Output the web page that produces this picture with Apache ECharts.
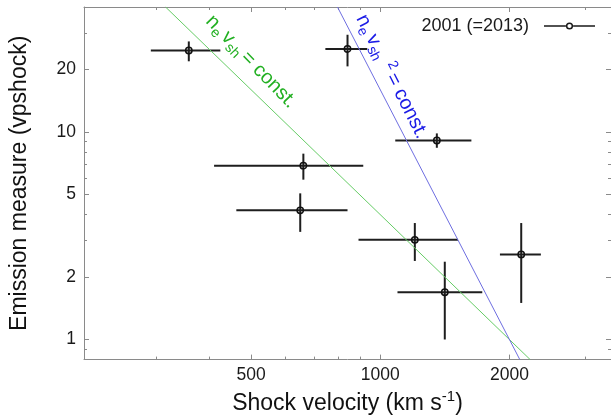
<!DOCTYPE html>
<html><head><meta charset="utf-8">
<script src="https://cdn.jsdelivr.net/npm/echarts@6/dist/echarts.min.js"></script>
<style>html,body{margin:0;padding:0;background:#fff}#c{width:611px;height:420px}</style>
</head><body><div id="c"></div>
<script>
const seriesName = '2001 (=2013)';
const velocity   = [358, 839, 1355, 662, 651, 1204, 1414, 2131];
const velocityLo = [292, 745, 1084, 410, 462, 890, 1097, 1901];
const velocityHi = [424, 933, 1631, 913, 839, 1518, 1729, 2368];
const emission   = [24.7, 25.1, 9.09, 6.88, 4.19, 3.02, 1.69, 2.57];
const emissionLo = [21.9, 20.7, 8.39, 5.89, 3.30, 2.39, 1.00, 1.50];
const emissionHi = [27.3, 29.4, 9.84, 7.86, 5.06, 3.64, 2.37, 3.64];
const lineNeVsh  = [[316, 40], [2236, 0.8]];
const lineNeVsh2 = [[795, 40], [2115, 0.8]];
const labelNeVshPos  = [500, 21.8];
const labelNeVsh2Pos = [1064, 18.5];
const xMajorTicks = [500, 1000, 2000];
const xMinorTicks = [300, 400, 600, 700, 800, 900, 3000];
const yMajorTicks = [1, 2, 5, 10, 20];
const yMinorTicks = [0.9, 3, 4, 6, 7, 8, 9, 30];
const xRange = [204, 3450];
const yRange = [0.8, 40];

const FONT = 'Liberation Sans';
const AX = '#8a8a8a';
const errData = velocity.map((v, i) => [v, emission[i], velocityLo[i], velocityHi[i], emissionLo[i], emissionHi[i]]);
const plainNum = v => String(+Number(v).toPrecision(6));

function xAx(pos, ticks, len, opts) {
  return Object.assign({
    type: 'log', logBase: 10, min: xRange[0], max: xRange[1], position: pos,
    axisLine: { show: true, lineStyle: { color: AX, width: 1 } },
    axisTick: { show: true, inside: true, length: len, customValues: ticks, lineStyle: { color: AX, width: 1 } },
    axisLabel: { show: false }, splitLine: { show: false }, minorTick: { show: false }
  }, opts || {});
}
function yAx(pos, ticks, len, opts) {
  return Object.assign({
    type: 'log', logBase: 10, min: yRange[0], max: yRange[1], position: pos,
    axisLine: { show: true, lineStyle: { color: AX, width: 1 } },
    axisTick: { show: true, inside: true, length: len, customValues: ticks, lineStyle: { color: AX, width: 1 } },
    axisLabel: { show: false }, splitLine: { show: false }, minorTick: { show: false }
  }, opts || {});
}

const chart = echarts.init(document.getElementById('c'), null, { renderer: 'canvas' });
chart.setOption({
  animation: false,
  backgroundColor: '#fff',
  textStyle: { fontFamily: FONT },
  grid: { left: 84, right: -1, top: 7, bottom: 53, containLabel: false },
  legend: {
    data: [{ name: seriesName, icon: 'path://M0 3.25H21.9V4.75H0Z M29.1 4A3.6 3.6 0 1 0 21.9 4A3.6 3.6 0 1 0 29.1 4Z M27.6 4A2.1 2.1 0 1 1 23.4 4A2.1 2.1 0 1 1 27.6 4Z M29.1 3.25H51V4.75H29.1Z' }],
    right: 11, top: 12, align: 'right', itemWidth: 51, itemHeight: 8,
    formatter: n => n + '  ',
    textStyle: { fontFamily: FONT, fontSize: 18, color: '#1a1a1a' },
    selectedMode: false
  },
  xAxis: [
    xAx('bottom', xMajorTicks, 5, {
      name: '{a|Shock velocity (km s}{b|-1}{a|)}', nameLocation: 'middle', nameGap: 20,
      nameTextStyle: { rich: {
        a: { fontFamily: FONT, fontSize: 23, color: '#111', lineHeight: 28 },
        b: { fontFamily: FONT, fontSize: 15, color: '#111', verticalAlign: 'top' } } },
      axisLabel: { show: true, customValues: xMajorTicks, margin: 7, formatter: plainNum, fontFamily: FONT, fontSize: 17.5, color: '#1a1a1a' }
    }),
    xAx('bottom', xMinorTicks, 3, { axisLine: { show: false } }),
    xAx('top', xMajorTicks, 5),
    xAx('top', xMinorTicks, 3, { axisLine: { show: false } })
  ],
  yAxis: [
    yAx('left', yMajorTicks, 5, {
      name: 'Emission measure (vpshock)', nameLocation: 'middle', nameGap: 53,
      nameTextStyle: { fontFamily: FONT, fontSize: 23, color: '#111' },
      axisLabel: { show: true, customValues: yMajorTicks, margin: 8, formatter: plainNum, fontFamily: FONT, fontSize: 17.5, color: '#1a1a1a' }
    }),
    yAx('left', yMinorTicks, 3, { axisLine: { show: false } }),
    yAx('right', yMajorTicks, 5),
    yAx('right', yMinorTicks, 3, { axisLine: { show: false } })
  ],
  series: [
    {
      type: 'line', name: 'ne vsh', data: lineNeVsh, xAxisIndex: 0, yAxisIndex: 0,
      showSymbol: false, symbol: 'none', silent: true, clip: true,
      lineStyle: { color: '#66cc66', width: 1 },
      markPoint: {
        symbol: 'circle', symbolSize: 0, silent: true,
        data: [{ coord: labelNeVshPos }],
        label: {
          show: true, position: 'inside', rotate: -46,
          formatter: '{n|n}{s|e} {n|v}{s|sh} {n|= const.}',
          rich: {
            n: { fontFamily: FONT, fontSize: 20, color: '#22b022', lineHeight: 26 },
            s: { fontFamily: FONT, fontSize: 14, color: '#22b022', verticalAlign: 'bottom' }
          }
        }
      }
    },
    {
      type: 'line', name: 'ne vsh2', data: lineNeVsh2, xAxisIndex: 0, yAxisIndex: 0,
      showSymbol: false, symbol: 'none', silent: true, clip: true,
      lineStyle: { color: '#6e6ee0', width: 1 },
      markPoint: {
        symbol: 'circle', symbolSize: 0, silent: true,
        data: [{ coord: labelNeVsh2Pos }],
        label: {
          show: true, position: 'inside', rotate: -63,
          formatter: '{n|n}{s|e} {n|v}{s|sh}{p|  2} {n|= const.}',
          rich: {
            n: { fontFamily: FONT, fontSize: 20, color: '#1a1ae6', lineHeight: 26 },
            s: { fontFamily: FONT, fontSize: 14, color: '#1a1ae6', verticalAlign: 'bottom' },
            p: { fontFamily: FONT, fontSize: 14, color: '#1a1ae6', verticalAlign: 'top' }
          }
        }
      }
    },
    {
      type: 'custom', name: seriesName, data: errData, xAxisIndex: 0, yAxisIndex: 0,
      itemStyle: { color: '#1a1a1a' },
      encode: { x: 0, y: 1 },
      renderItem: function (params, api) {
        const x = api.value(0), y = api.value(1);
        const c = api.coord([x, y]);
        const l = api.coord([api.value(2), y]);
        const r = api.coord([api.value(3), y]);
        const b = api.coord([x, api.value(4)]);
        const t = api.coord([x, api.value(5)]);
        return { type: 'group', children: [
          { type: 'line', shape: { x1: l[0], y1: l[1], x2: r[0], y2: r[1] }, style: { stroke: '#1e1e1e', lineWidth: 2 } },
          { type: 'line', shape: { x1: b[0], y1: b[1], x2: t[0], y2: t[1] }, style: { stroke: '#1e1e1e', lineWidth: 2 } },
          { type: 'circle', shape: { cx: c[0], cy: c[1], r: 3.2 }, style: { stroke: '#111', fill: 'none', lineWidth: 1.5 } }
        ] };
      }
    }
  ]
});
</script></body></html>
